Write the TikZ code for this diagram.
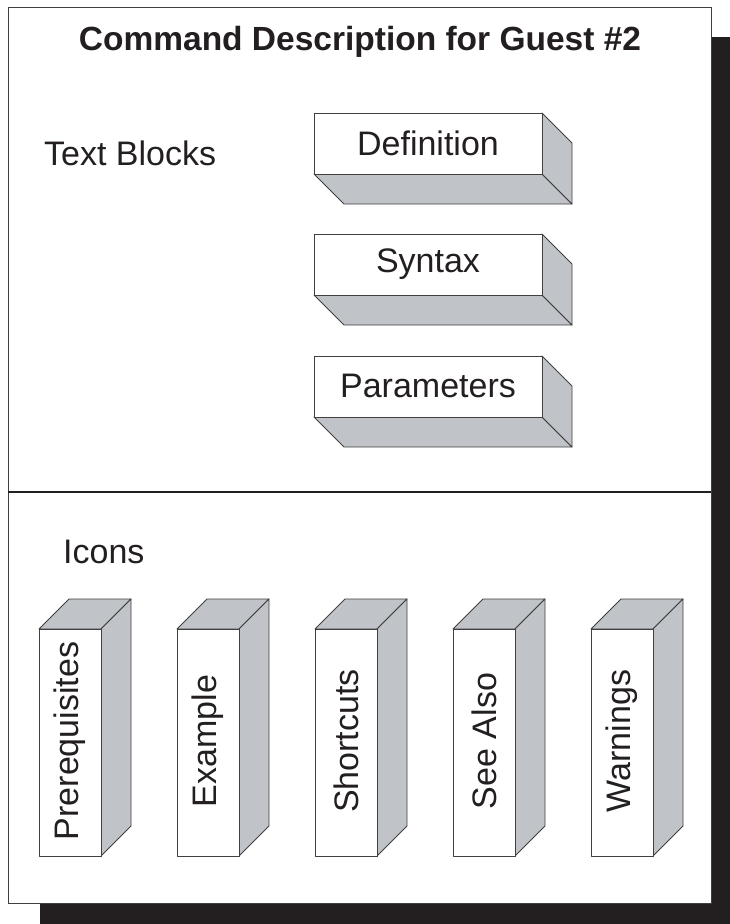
\documentclass[tikz,border=0pt]{standalone}
\usepackage{fontspec}
\setmainfont{Liberation Sans}
\definecolor{ink}{HTML}{231F20}
\definecolor{side}{HTML}{C0C3C8}
\definecolor{edge}{HTML}{404040}
\begin{document}
\begin{tikzpicture}[x=1pt,y=-1pt,
  lbl/.style={inner sep=0pt,text=ink,font=\fontsize{34}{40}\selectfont},
  face/.style={draw=edge,line width=0.9pt,line join=round},
  grey/.style={face,fill=side},
  front/.style={face,fill=white}]
\useasboundingbox (0,0) rectangle (730,924);
% shadow and frame
\fill[ink] (40,37) rectangle (730,924);
\draw[fill=white,draw=edge,line width=1pt] (8,7) rectangle (711,903);
\draw[ink,line width=2.2pt] (8,492) -- (711,492);
% title and labels
\node[lbl,font=\fontsize{33.5}{40}\bfseries] (title) at (360,42) {Command Description for Guest \#2};
\node[lbl,anchor=base west] (tb) at (44,165) {Text Blocks};
\node[lbl,anchor=base west] (ic) at (63,563) {Icons};
% horizontal blocks
\foreach \y/\t/\n in {113/Definition/def,234/Syntax/syn,356/Parameters/par}{
  \draw[grey] (314,\y+61) -- (542,\y+61) -- (572,\y+91) -- (344,\y+91) -- cycle;
  \draw[grey] (542,\y) -- (572,\y+30) -- (572,\y+91) -- (542,\y+61) -- cycle;
  \draw[front] (314,\y) rectangle (542,\y+61);
  \node[lbl] (\n) at (428,\y+30) {\t};
}
% vertical blocks
\foreach \x/\t/\n in {39/Prerequisites/pre,177/Example/ex,315/Shortcuts/sh,453/See Also/sa,591/Warnings/wa}{
  \draw[grey] (\x,629) -- (\x+30,599) -- (\x+92,599) -- (\x+62,629) -- cycle;
  \draw[grey] (\x+62,629) -- (\x+92,599) -- (\x+92,826) -- (\x+62,856) -- cycle;
  \draw[front] (\x,629) rectangle (\x+62,856);
  \node[lbl,rotate=90] (\n) at (\x+31,741) {\t};
}
\end{tikzpicture}
\end{document}
